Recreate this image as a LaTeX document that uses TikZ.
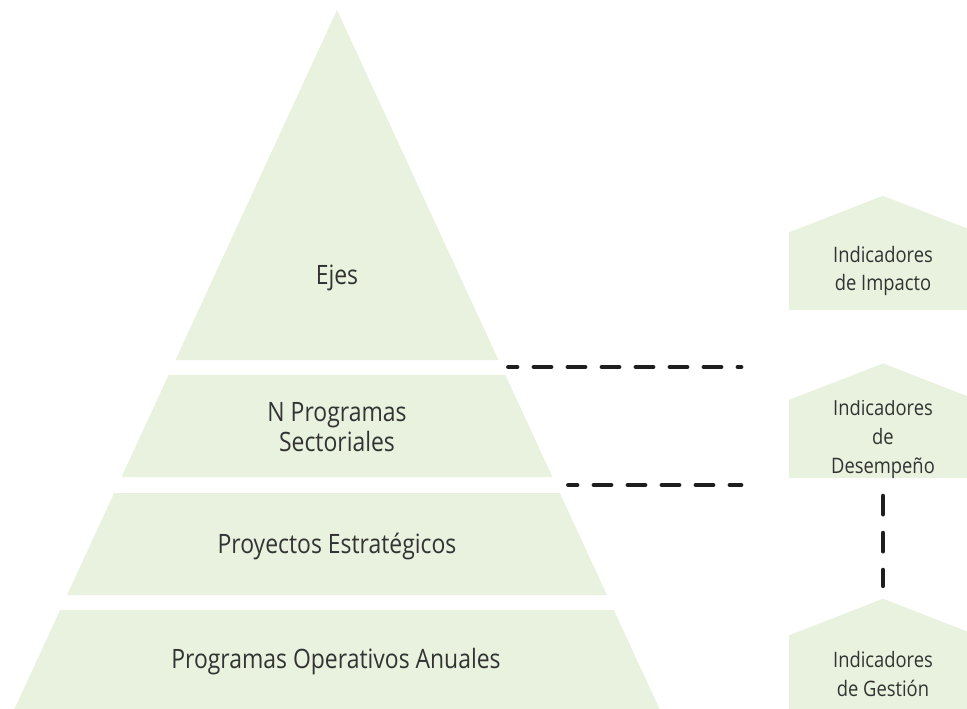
\documentclass[tikz,border=0pt]{standalone}
\usepackage{fontspec}
\setmainfont{Open Sans}[FakeStretch=0.86]
\usepackage{xcolor}
\usetikzlibrary{calc}
\definecolor{leaf}{HTML}{E9F2DE}
\definecolor{ink}{HTML}{333333}
\definecolor{dashink}{HTML}{1E1E1E}

\begin{document}
\begin{tikzpicture}[x=0.75pt, y=-0.75pt,
  tier/.style={text=ink, align=center, inner sep=0pt,
               font=\fontsize{20}{22}\selectfont},
  house/.style={fill=leaf, minimum width=141pt, minimum height=58.5pt,
                inner sep=0pt, text=ink, align=center,
                font=\fontsize{16}{21.5}\selectfont},
  link/.style={draw=dashink, line width=3.6pt, line cap=round,
               dash pattern=on 12.75pt off 12.75pt, dash phase=6.4pt}
]
  \clip (0,0) rectangle (967,708);

  \fill[leaf] (337,10) -- (498.5,360) -- (175.5,360) -- cycle;
  \foreach \t/\b in {375/477, 493/595, 610/720}
    \fill[leaf] ({337-0.4614*(\t-10)},\t) -- ({337+0.4614*(\t-10)},\t)
      -- ({337+0.4614*(\b-10)},\b) -- ({337-0.4614*(\b-10)},\b) -- cycle;

  \node[tier] (ejes) at (337,278) {Ejes};
  \node[tier] (prog) at (337,427) {N Programas\\Sectoriales};
  \node[tier] (proy) at (337,546) {Proyectos Estratégicos};
  \node[tier] (poa)  at (336,662) {Programas Operativos Anuales};

  \node[house] (imp) at (883,271) {Indicadores\\de Impacto};
  \node[house] (des) at (883,439) {Indicadores\\de\\Desempeño};
  \node[house] (ges) at (883,674) {Indicadores\\de Gestión};
  \foreach \h in {imp, des, ges}
    \fill[leaf] ([yshift=-0.5pt]\h.north west) -- ($(\h.north)+(0,-36)$)
      -- ([yshift=-0.5pt]\h.north east) -- cycle;

  \coordinate (e1) at (508.5,367);
  \coordinate (f1) at (741,367);
  \coordinate (e2) at (568.5,485);
  \coordinate (f2) at (741,485);
  \draw[link] (e1) -- (f1);
  \draw[link] (e2) -- (f2);
  \draw[link, dash pattern=on 13.5pt off 14.25pt, dash phase=0pt]
    ($(des.south)+(0,17.5)$) -- ($(ges.north)+(0,-49)$);
\end{tikzpicture}
\end{document}
